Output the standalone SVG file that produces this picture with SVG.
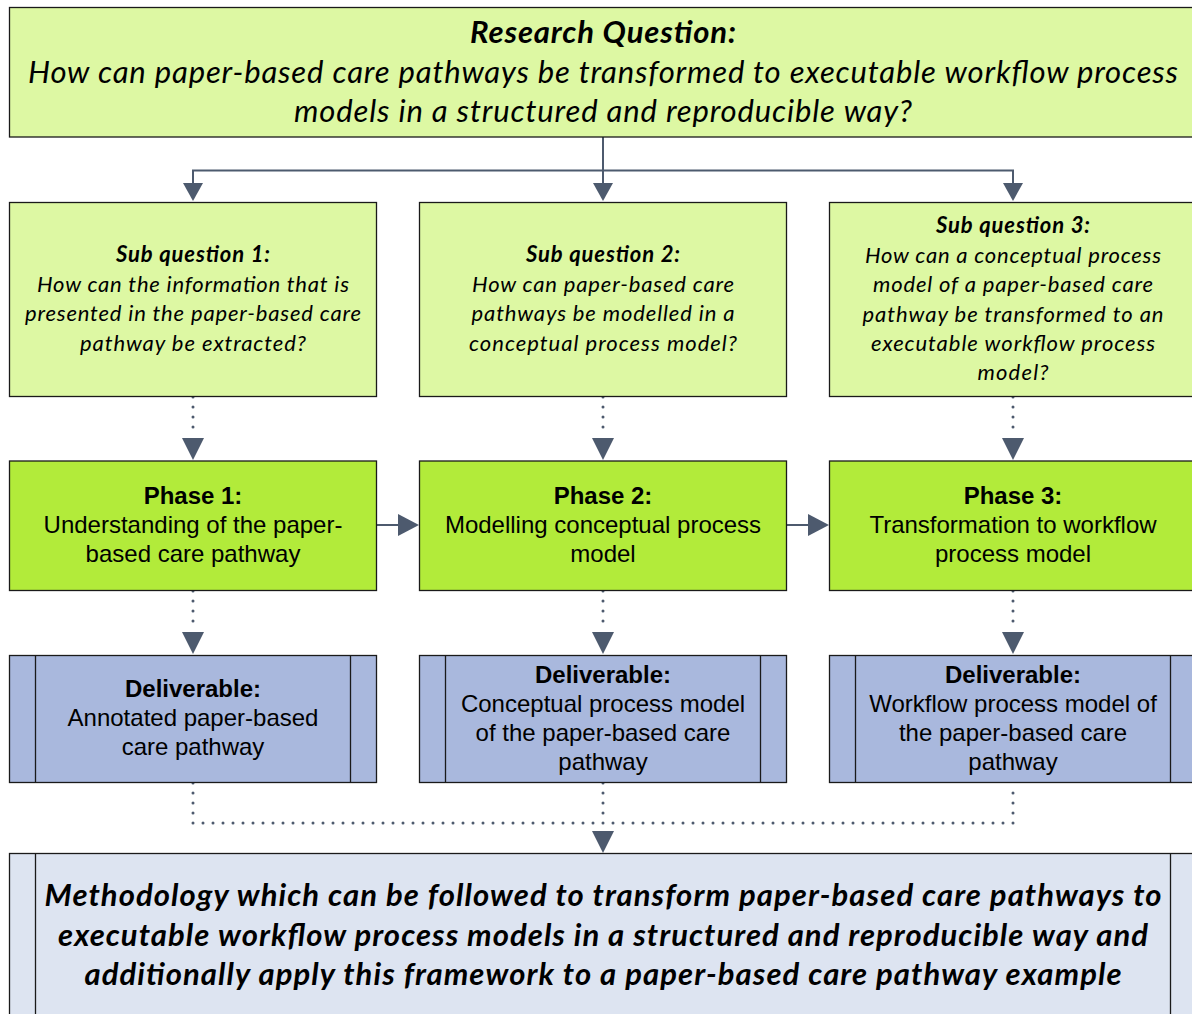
<svg xmlns="http://www.w3.org/2000/svg" width="1192" height="1014" viewBox="0 0 1192 1014">
<style>
.box{stroke:#1a1a1a;stroke-width:1.3}
.q{fill:#DDF8A3}
.ph{fill:#B2EB3A}
.dl{fill:#A9B8DD}
.res{fill:#DDE4F1}
.cal{font-family:Lato,"Open Sans","Noto Sans",sans-serif;font-style:italic;fill:#000;text-anchor:middle}
.ar{font-family:"Liberation Sans",Arial,sans-serif;fill:#000;text-anchor:middle;font-size:24px}
.b{font-weight:bold}
.solid{fill:none;stroke:#4D5A6E;stroke-width:2}
.dot{fill:none;stroke:#4D5A6E;stroke-width:3;stroke-linecap:round;stroke-dasharray:0 10}
.ah{fill:#4D5A6E}
</style>
<g id="connectors">
<path class="solid" d="M603,137 V170.5 H193 V183"/>
<path class="solid" d="M603,170.5 V183"/>
<path class="solid" d="M603,170.5 H1013 V183"/>
<path class="ah" d="M183,183 L203,183 L193,201 Z"/>
<path class="ah" d="M593,183 L613,183 L603,201 Z"/>
<path class="ah" d="M1003,183 L1023,183 L1013,201 Z"/>
<path class="dot" d="M193,397 V432"/>
<path class="dot" d="M603,397 V432"/>
<path class="dot" d="M1013,397 V432"/>
<path class="ah" d="M182,438 L204,438 L193,460 Z"/>
<path class="ah" d="M592,438 L614,438 L603,460 Z"/>
<path class="ah" d="M1002,438 L1024,438 L1013,460 Z"/>
<path class="dot" d="M193,591 V626"/>
<path class="dot" d="M603,591 V626"/>
<path class="dot" d="M1013,591 V626"/>
<path class="ah" d="M182,632 L204,632 L193,654 Z"/>
<path class="ah" d="M592,632 L614,632 L603,654 Z"/>
<path class="ah" d="M1002,632 L1024,632 L1013,654 Z"/>
<path class="solid" d="M377,525 H400"/>
<path class="ah" d="M398,514 L419,525 L398,536 Z"/>
<path class="solid" d="M787,525 H810"/>
<path class="ah" d="M808,514 L829,525 L808,536 Z"/>
<path class="dot" d="M193,783 V823 H1013 V783"/>
<path class="dot" d="M603,783 V823"/>
<path class="ah" d="M592,831 L614,831 L603,853 Z"/>
</g>
<g id="research-question">
<rect class="box q" x="9.5" y="7.5" width="1190" height="129.5"/>
<text class="cal b" x="603" y="43" font-size="31" textLength="266">Research Question:</text>
<text class="cal" x="603" y="83" font-size="31" textLength="1150">How can paper-based care pathways be transformed to executable workflow process</text>
<text class="cal" x="603" y="122" font-size="31" textLength="618">models in a structured and reproducible way?</text>
</g>
<g id="sub-question-1">
<rect class="box q" x="9.5" y="202.5" width="367" height="194"/>
<text class="cal b" x="193" y="262" font-size="22" textLength="154">Sub question 1:</text>
<text class="cal" x="193" y="292" font-size="22" textLength="312">How can the information that is</text>
<text class="cal" x="193" y="321" font-size="22" textLength="336">presented in the paper-based care</text>
<text class="cal" x="193" y="351" font-size="22" textLength="226">pathway be extracted?</text>
</g>
<g id="sub-question-2">
<rect class="box q" x="419.5" y="202.5" width="367" height="194"/>
<text class="cal b" x="603" y="262" font-size="22" textLength="154">Sub question 2:</text>
<text class="cal" x="603" y="292" font-size="22" textLength="262">How can paper-based care</text>
<text class="cal" x="603" y="321" font-size="22" textLength="263">pathways be modelled in a</text>
<text class="cal" x="603" y="351" font-size="22" textLength="268">conceptual process model?</text>
</g>
<g id="sub-question-3">
<rect class="box q" x="829.5" y="202.5" width="367" height="194"/>
<text class="cal b" x="1013" y="233" font-size="22" textLength="154">Sub question 3:</text>
<text class="cal" x="1013" y="263" font-size="22" textLength="296">How can a conceptual process</text>
<text class="cal" x="1013" y="292" font-size="22" textLength="280">model of a paper-based care</text>
<text class="cal" x="1013" y="322" font-size="22" textLength="301">pathway be transformed to an</text>
<text class="cal" x="1013" y="351" font-size="22" textLength="284">executable workflow process</text>
<text class="cal" x="1013" y="380" font-size="22" textLength="71">model?</text>
</g>
<g id="phase-1">
<rect class="box ph" x="9.5" y="461" width="367" height="129.5"/>
<text class="ar b" x="193" y="504">Phase 1:</text>
<text class="ar" x="193" y="533">Understanding of the paper-</text>
<text class="ar" x="193" y="562">based care pathway</text>
</g>
<g id="phase-2">
<rect class="box ph" x="419.5" y="461" width="367" height="129.5"/>
<text class="ar b" x="603" y="504">Phase 2:</text>
<text class="ar" x="603" y="533">Modelling conceptual process</text>
<text class="ar" x="603" y="562">model</text>
</g>
<g id="phase-3">
<rect class="box ph" x="829.5" y="461" width="367" height="129.5"/>
<text class="ar b" x="1013" y="504">Phase 3:</text>
<text class="ar" x="1013" y="533">Transformation to workflow</text>
<text class="ar" x="1013" y="562">process model</text>
</g>
<g id="deliverable-1">
<rect class="box dl" x="9.5" y="655.5" width="367" height="127"/>
<line class="box" x1="35.5" y1="655.5" x2="35.5" y2="782.5"/>
<line class="box" x1="350.5" y1="655.5" x2="350.5" y2="782.5"/>
<text class="ar b" x="193" y="697">Deliverable:</text>
<text class="ar" x="193" y="726">Annotated paper-based</text>
<text class="ar" x="193" y="755">care pathway</text>
</g>
<g id="deliverable-2">
<rect class="box dl" x="419.5" y="655.5" width="367" height="127"/>
<line class="box" x1="445.5" y1="655.5" x2="445.5" y2="782.5"/>
<line class="box" x1="760.5" y1="655.5" x2="760.5" y2="782.5"/>
<text class="ar b" x="603" y="683">Deliverable:</text>
<text class="ar" x="603" y="712">Conceptual process model</text>
<text class="ar" x="603" y="741">of the paper-based care</text>
<text class="ar" x="603" y="770">pathway</text>
</g>
<g id="deliverable-3">
<rect class="box dl" x="829.5" y="655.5" width="367" height="127"/>
<line class="box" x1="855.5" y1="655.5" x2="855.5" y2="782.5"/>
<line class="box" x1="1170.5" y1="655.5" x2="1170.5" y2="782.5"/>
<text class="ar b" x="1013" y="683">Deliverable:</text>
<text class="ar" x="1013" y="712">Workflow process model of</text>
<text class="ar" x="1013" y="741">the paper-based care</text>
<text class="ar" x="1013" y="770">pathway</text>
</g>
<g id="result">
<rect class="box res" x="9.5" y="853.5" width="1190" height="200"/>
<line class="box" x1="35.5" y1="853.5" x2="35.5" y2="1014"/>
<line class="box" x1="1170.5" y1="853.5" x2="1170.5" y2="1014"/>
<text class="cal b" x="603" y="906" font-size="31" textLength="1117">Methodology which can be followed to transform paper-based care pathways to</text>
<text class="cal b" x="603" y="946" font-size="31" textLength="1090">executable workflow process models in a structured and reproducible way and</text>
<text class="cal b" x="603" y="985" font-size="31" textLength="1037">additionally apply this framework to a paper-based care pathway example</text>
</g>
</svg>
